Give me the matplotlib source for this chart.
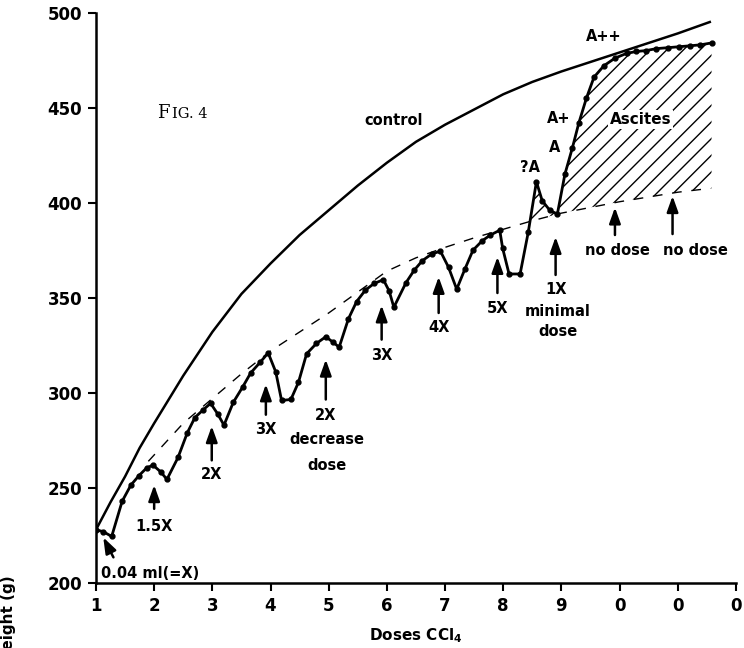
import matplotlib.pyplot as plt
import numpy as np

plt.rcParams['font.family'] = 'DejaVu Sans'
plt.rcParams['font.weight'] = 'bold'
plt.rcParams['hatch.linewidth'] = 1.0

# weight of the CCl4 treated rats (one dot per weighing)
dose_x = [1.00, 1.125, 1.27, 1.45, 1.60, 1.74, 1.87, 1.98, 2.11, 2.22, 2.41, 2.57, 2.70,
          2.84, 2.97, 3.09, 3.20, 3.36, 3.52, 3.66, 3.82, 3.96, 4.09, 4.19, 4.35, 4.48,
          4.62, 4.79, 4.95, 5.08, 5.18, 5.34, 5.48, 5.63, 5.78, 5.94, 6.04, 6.12, 6.33,
          6.47, 6.61, 6.77, 6.92, 7.06, 7.20, 7.34, 7.48, 7.64, 7.78, 7.94, 7.99, 8.10,
          8.29, 8.43, 8.57, 8.67, 8.80, 8.93, 9.06, 9.19, 9.30, 9.43, 9.56, 9.73, 9.92,
          10.12, 10.29, 10.46, 10.63, 10.83, 11.02, 11.21, 11.39, 11.58]
weight = [228, 227, 224.5, 243, 251.5, 256.5, 260.5, 262, 258.5, 254.5, 266, 279, 287,
          291, 294.5, 289, 283, 295, 303, 310.5, 316, 321, 311, 296, 296.5, 305.5,
          320.5, 326, 329.5, 326.5, 324, 339, 348, 354, 357.5, 359.5, 353.5, 345, 358,
          364.5, 369.5, 373, 374.5, 366, 354.5, 365, 375, 380, 383, 385.5, 376, 362.5,
          362.5, 384.5, 411, 401, 396, 394, 415, 429, 442, 455, 466, 472, 476,
          478.5, 479.5, 480, 481, 481.5, 482, 482.5, 483, 484]

# control rats
control_x = [1.0, 1.25, 1.5, 1.75, 2.0, 2.5, 3.0, 3.5, 4.0, 4.5, 5.0, 5.5, 6.0, 6.5,
             7.0, 7.5, 8.0, 8.5, 9.0, 9.5, 10.0, 10.5, 11.0, 11.55]
control_w = [228, 242.5, 256, 271, 284, 309, 332, 352, 368, 383, 396, 409, 421, 432,
             441, 449, 457, 463.5, 469, 474, 479, 484, 489, 495]

# expected growth without ascites (dashed)
expected_x = [1.9, 2.5, 3.0, 3.5, 4.0, 4.5, 5.0, 5.5, 6.0, 6.5, 7.0, 7.5, 8.0, 8.5, 9.0,
              9.5, 10.0, 10.5, 11.0, 11.55]
expected_w = [264, 284, 297, 310, 322, 332, 342, 353, 364, 371, 376.5, 381.5, 386,
              390.5, 394.5, 397.5, 400.5, 403, 405.5, 407.5]

xtick_pos = list(range(1, 13))
xtick_lab = ['1', '2', '3', '4', '5', '6', '7', '8', '9', '0', '0', '0']
ytick_pos = [200, 250, 300, 350, 400, 450, 500]

fig = plt.figure(figsize=(7.44, 6.48), dpi=100)
ax = fig.add_axes([0.129, 0.1003, 0.8602, 0.8804])

ax.plot(control_x, control_w, color='k', lw=1.8)
ax.plot(expected_x, expected_w, color='k', lw=1.0, dashes=(7, 7))
ax.plot(dose_x, weight, color='k', lw=2.0, marker='o', ms=3.5)

# hatched ascites area between the dashed curve and the weights
xs = np.array(dose_x)
ys = np.array(weight)
base = np.interp(xs, expected_x, expected_w)
ax.fill_between(xs, base, ys, where=(ys > base) & (xs > 8.3), interpolate=True,
                facecolor='none', edgecolor='k', hatch='//', linewidth=0)

# arrows
arrows = [((1.125, 224), (1.30, 213.5)), ((2.0, 251.5), (2.0, 239)),
          ((2.99, 282.5), (2.99, 264.5)), ((3.92, 304.5), (3.92, 288.5)),
          ((4.95, 317.5), (4.95, 296.5)), ((5.91, 346), (5.91, 328)),
          ((6.89, 361), (6.89, 342)), ((7.90, 371.5), (7.90, 352.5)),
          ((8.90, 382), (8.90, 362)), ((9.92, 397.5), (9.92, 383)),
          ((10.91, 403.5), (10.91, 383.5))]
for tip, tail in arrows:
    ax.annotate('', xy=tip, xytext=tail,
                arrowprops=dict(arrowstyle='-|>,head_length=0.95,head_width=0.34',
                                color='k', lw=1.8, mutation_scale=10, shrinkA=0, shrinkB=0))

labels = [(2.0, 229.5, '1.5X'), (2.99, 257, '2X'), (3.92, 280.5, '3X'),
          (4.95, 288, '2X'), (4.97, 275.3, 'decrease'), (4.97, 262, 'dose'),
          (5.91, 319.5, '3X'), (6.89, 334.5, '4X'), (7.90, 344.5, '5X'),
          (8.90, 354.6, '1X'), (8.94, 342.8, 'minimal'), (8.94, 332.3, 'dose'),
          (9.97, 375, 'no dose'), (11.31, 375, 'no dose'),
          (8.46, 418.3, '?A'), (8.89, 429, 'A'), (8.96, 444.5, 'A+'), (9.72, 487.5, 'A++'),
          (6.11, 443, 'control')]
for lx, ly, t in labels:
    ax.text(lx, ly, t, ha='center', va='center', fontsize=10.5, fontweight='bold')

ax.text(1.09, 205, '0.04 ml(=X)', ha='left', va='center', fontsize=10.5, fontweight='bold')
ax.text(10.36, 443.7, 'Ascites', ha='center', va='center', fontsize=11, fontweight='bold',
        bbox=dict(facecolor='white', edgecolor='none', pad=1.5))

ax.text(2.05, 444.7, 'F', ha='left', va='baseline', fontsize=13, family='DejaVu Serif',
        fontweight='normal')
ax.text(2.30, 444.7, 'IG. 4', ha='left', va='baseline', fontsize=10.5, family='DejaVu Serif',
        fontweight='normal')

ax.set_xlim(1, 12)
ax.set_ylim(200, 500)
ax.spines['top'].set_visible(False)
ax.spines['right'].set_visible(False)
ax.spines['left'].set_linewidth(1.8)
ax.spines['bottom'].set_linewidth(1.8)
ax.set_xticks(xtick_pos)
ax.set_xticklabels(xtick_lab)
ax.set_yticks(ytick_pos)
ax.tick_params(axis='both', direction='out', length=6, width=1.5, labelsize=12, pad=4)
for lab in ax.get_xticklabels() + ax.get_yticklabels():
    lab.set_fontweight('bold')

ax.set_xlabel('Doses CCl$_\\mathbf{4}$', fontsize=11, fontweight='bold', labelpad=8)
fig.text(0.012, 1 - 575 / 648, 'Weight (g)', rotation=90, ha='center', va='top',
         fontsize=11, fontweight='bold')

fig.savefig('out.png', dpi=100)
